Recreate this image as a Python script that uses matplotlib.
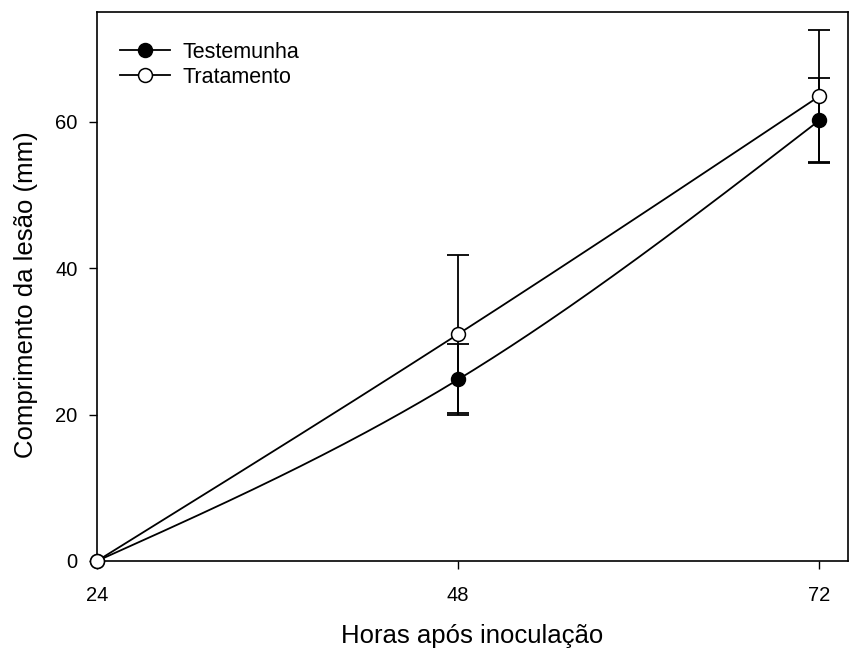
import numpy as np
import matplotlib
matplotlib.use("Agg")
import matplotlib.pyplot as plt

plt.rcParams['font.family'] = ['Liberation Sans', 'DejaVu Sans']

hours = [24, 48, 72]
testemunha = [0.0, 24.8, 60.2]
testemunha_err = [0.0, 4.9, 5.8]
tratamento = [0.0, 31.0, 63.5]
tratamento_err = [0.0, 10.8, 9.0]
xticks = [24, 48, 72]
yticks = [0, 20, 40, 60]


def natural_spline(x, y, n=200):
    x = np.asarray(x, float)
    y = np.asarray(y, float)
    k = len(x)
    h = np.diff(x)
    A = np.zeros((k, k))
    b = np.zeros(k)
    A[0, 0] = 1
    A[-1, -1] = 1
    for i in range(1, k - 1):
        A[i, i - 1] = h[i - 1]
        A[i, i] = 2 * (h[i - 1] + h[i])
        A[i, i + 1] = h[i]
        b[i] = 6 * ((y[i + 1] - y[i]) / h[i] - (y[i] - y[i - 1]) / h[i - 1])
    M = np.linalg.solve(A, b)
    xs = np.linspace(x[0], x[-1], n)
    ys = np.empty_like(xs)
    for j, xv in enumerate(xs):
        i = min(np.searchsorted(x, xv, side='right') - 1, k - 2)
        t1 = x[i + 1] - xv
        t0 = xv - x[i]
        hi = h[i]
        ys[j] = (M[i] * t1 ** 3 / (6 * hi) + M[i + 1] * t0 ** 3 / (6 * hi)
                 + (y[i] / hi - M[i] * hi / 6) * t1
                 + (y[i + 1] / hi - M[i + 1] * hi / 6) * t0)
    return xs, ys


fig = plt.figure(figsize=(8.49, 6.52), dpi=100)
ax = fig.add_axes([97 / 849, 1 - 561 / 652, (848 - 97) / 849, (561 - 12) / 652])

for vals, errs, face, lab in [(testemunha, testemunha_err, 'black', 'Testemunha'),
                              (tratamento, tratamento_err, 'white', 'Tratamento')]:
    xs, ys = natural_spline(hours, vals)
    ax.plot(xs, ys, color='black', lw=1.3, zorder=2)
    ax.errorbar(hours[1:], vals[1:], yerr=errs[1:], fmt='none', ecolor='black',
                elinewidth=1.3, capsize=8, capthick=1.3, zorder=3)
    ax.plot(hours, vals, linestyle='none', marker='o', markersize=10,
            markerfacecolor=face, markeredgecolor='black', markeredgewidth=1.1,
            zorder=4, clip_on=False)
    ax.plot([], [], color='black', lw=1.3, marker='o', markersize=10,
            markerfacecolor=face, markeredgecolor='black', markeredgewidth=1.1,
            label=lab)

ax.set_xlim(24, 73.9)
ax.set_ylim(0, 75)
ax.set_xticks(xticks)
ax.set_yticks(yticks)
ax.tick_params(direction='out', length=6, width=1, labelsize=14.5)
ax.tick_params(axis='x', pad=12)
ax.tick_params(axis='y', pad=8)
for s in ax.spines.values():
    s.set_linewidth(1.2)

ax.set_xlabel('Horas após inoculação', fontsize=18.5, labelpad=14)
ax.set_ylabel('Comprimento da lesão (mm)', fontsize=18.5, labelpad=12)
ax.yaxis.set_label_coords(-0.078, 0.485)

ax.legend(loc='upper left', frameon=False, fontsize=15.5, handlelength=2.3,
          bbox_to_anchor=(0.031, 0.946), borderaxespad=0, borderpad=0,
          handletextpad=0.6, labelspacing=0.2)

fig.savefig('out.png', dpi=100)
